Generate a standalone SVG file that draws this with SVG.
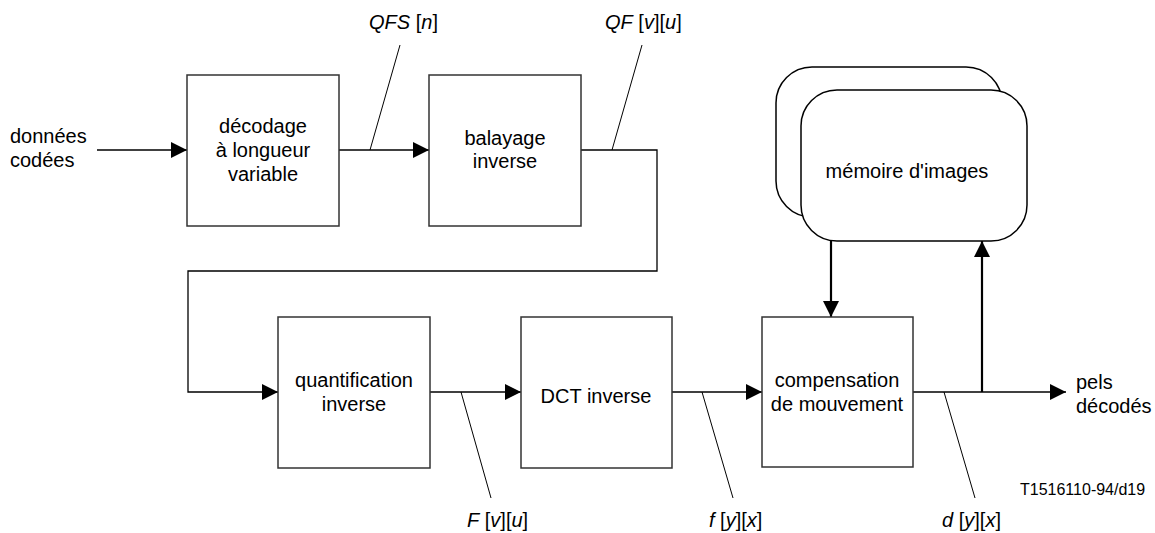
<svg xmlns="http://www.w3.org/2000/svg" width="1155" height="533" viewBox="0 0 1155 533">
  <style>
    text { font-family: "Liberation Sans", Arial, sans-serif; font-size: 20px; fill: #000; }
    .c { text-anchor: middle; }
    .i { font-style: italic; }
    .box { fill: #fff; stroke: #333; stroke-width: 1.5; }
    .mem { fill: #fff; stroke: #000; stroke-width: 1.5; }
    .wire { fill: none; stroke: #000; stroke-width: 1.3; }
    .wire.thick { stroke-width: 2.2; }
    .arrow { marker-end: url(#head); }
    .tick { fill: none; stroke: #000; stroke-width: 1; }
    .ref { font-size: 16px; }
  </style>
  <defs>
    <marker id="head" viewBox="0 0 16 16" markerWidth="16" markerHeight="16" markerUnits="userSpaceOnUse" refX="16" refY="8" orient="auto">
      <path d="M0,0 L16,8 L0,16 z" fill="#000"/>
    </marker>
  </defs>

  <rect width="1155" height="533" fill="#fff"/>

  <!-- connectors -->
  <g id="connectors">
    <path class="wire arrow" d="M97,150 H187"/>
    <path class="wire arrow" d="M339,150 H429"/>
    <path class="wire arrow" d="M581,150 H657 V271 H188 V392 H278"/>
    <path class="wire arrow" d="M430,392 H521"/>
    <path class="wire arrow" d="M672,392 H762"/>
    <path class="wire arrow" d="M913,392 H1066"/>
    <path class="wire thick arrow" d="M982,392 V241"/>
    <path class="wire thick arrow" d="M831,241 V317"/>
    <!-- signal name leaders -->
    <path class="tick" d="M370,150 L400,45"/>
    <path class="tick" d="M612,150 L642,45"/>
    <path class="tick" d="M461,392 L491,498"/>
    <path class="tick" d="M702,392 L733,498"/>
    <path class="tick" d="M944,392 L975,498"/>
  </g>

  <!-- signal labels -->
  <g id="labels">
    <text x="10" y="143">données</text>
    <text x="10" y="167">codées</text>
    <text x="369" y="29"><tspan class="i">QFS</tspan> [<tspan class="i">n</tspan>]</text>
    <text x="605" y="29"><tspan class="i">QF</tspan> [<tspan class="i">v</tspan>][<tspan class="i">u</tspan>]</text>
    <text x="467" y="527"><tspan class="i">F</tspan> [<tspan class="i">v</tspan>][<tspan class="i">u</tspan>]</text>
    <text x="709" y="527"><tspan class="i">f</tspan> [<tspan class="i">y</tspan>][<tspan class="i">x</tspan>]</text>
    <text x="942" y="527"><tspan class="i">d</tspan> [<tspan class="i">y</tspan>][<tspan class="i">x</tspan>]</text>
    <text x="1076" y="389">pels</text>
    <text x="1076" y="413">décodés</text>
    <text class="ref" x="1020" y="495">T1516110-94/d19</text>
  </g>

  <g id="vld">
    <rect class="box" x="187" y="75" width="152" height="151"/>
    <text class="c" x="263" y="133">décodage</text>
    <text class="c" x="263" y="157">à longueur</text>
    <text class="c" x="263" y="181">variable</text>
  </g>

  <g id="inverse-scan">
    <rect class="box" x="429" y="75" width="152" height="151"/>
    <text class="c" x="505" y="145">balayage</text>
    <text class="c" x="505" y="168">inverse</text>
  </g>

  <g id="inverse-quant">
    <rect class="box" x="278" y="317" width="152" height="151"/>
    <text class="c" x="354" y="387">quantification</text>
    <text class="c" x="354" y="411">inverse</text>
  </g>

  <g id="idct">
    <rect class="box" x="521" y="317" width="151" height="151"/>
    <text class="c" x="596" y="403">DCT inverse</text>
  </g>

  <g id="motion-comp">
    <rect class="box" x="762" y="317" width="151" height="150"/>
    <text class="c" x="837" y="387">compensation</text>
    <text class="c" x="837" y="411">de mouvement</text>
  </g>

  <g id="frame-store">
    <rect class="mem" x="776" y="67" width="226" height="150" rx="36" ry="36"/>
    <rect class="mem" x="801" y="90" width="226" height="151" rx="36" ry="36"/>
    <text class="c" x="907" y="178">mémoire d'images</text>
  </g>
</svg>
